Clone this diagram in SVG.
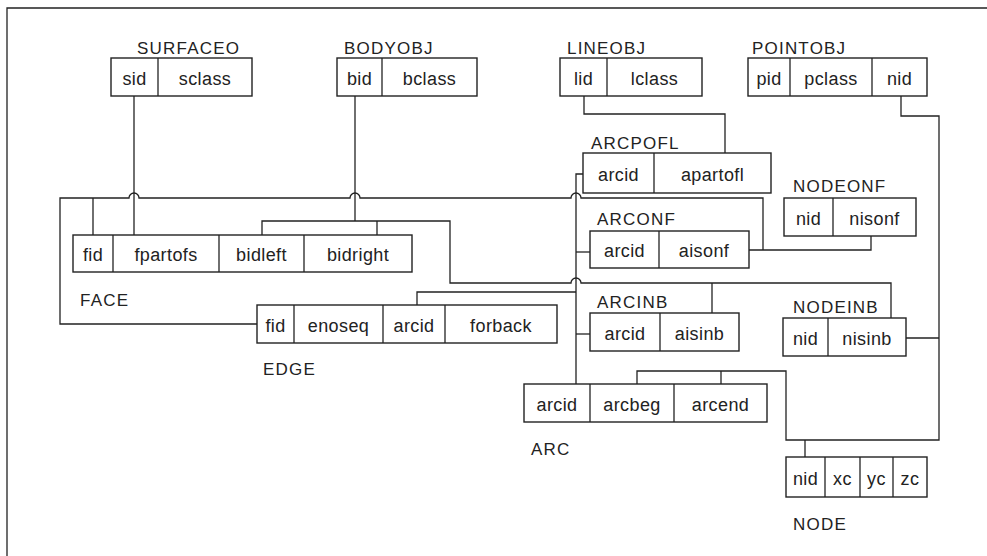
<svg xmlns="http://www.w3.org/2000/svg" width="987" height="556" viewBox="0 0 987 556">
<style>
.bx{fill:none;stroke:#222;stroke-width:1.4}
.dv{stroke:#222;stroke-width:1.3}
.f{font-family:"Liberation Sans",Arial,sans-serif;font-size:18px;fill:#222;text-anchor:middle;letter-spacing:0.4px}
.lb{font-family:"Liberation Sans",Arial,sans-serif;font-size:17px;fill:#222;letter-spacing:1.2px}
.cn{fill:none;stroke:#222;stroke-width:1.3}
</style>
<rect width="987" height="556" fill="#fff"/>
<path class="cn" d="M987,8 H7 V556"/>

<g id="SURFACEO">
<text class="lb" x="137" y="54">SURFACEO</text>
<rect class="bx" x="111" y="58" width="141" height="38"/>
<line class="dv" x1="158" y1="58" x2="158" y2="96"/>
<text class="f" x="134.5" y="85">sid</text>
<text class="f" x="205" y="85">sclass</text>
</g>

<g id="BODYOBJ">
<text class="lb" x="344" y="54">BODYOBJ</text>
<rect class="bx" x="337" y="58" width="140" height="38"/>
<line class="dv" x1="382" y1="58" x2="382" y2="96"/>
<text class="f" x="359.5" y="85">bid</text>
<text class="f" x="429.5" y="85">bclass</text>
</g>

<g id="LINEOBJ">
<text class="lb" x="567" y="54">LINEOBJ</text>
<rect class="bx" x="560" y="58" width="142" height="38"/>
<line class="dv" x1="607" y1="58" x2="607" y2="96"/>
<text class="f" x="583.5" y="85">lid</text>
<text class="f" x="654.5" y="85">lclass</text>
</g>

<g id="POINTOBJ">
<text class="lb" x="752" y="54">POINTOBJ</text>
<rect class="bx" x="748" y="58" width="179" height="38"/>
<line class="dv" x1="790" y1="58" x2="790" y2="96"/>
<line class="dv" x1="872" y1="58" x2="872" y2="96"/>
<text class="f" x="769" y="85">pid</text>
<text class="f" x="831" y="85">pclass</text>
<text class="f" x="899.5" y="85">nid</text>
</g>

<g id="ARCPOFL">
<text class="lb" x="591" y="149">ARCPOFL</text>
<rect class="bx" x="583" y="153" width="188" height="40"/>
<line class="dv" x1="654" y1="153" x2="654" y2="193"/>
<text class="f" x="618.5" y="181">arcid</text>
<text class="f" x="712.5" y="181">apartofl</text>
</g>

<g id="NODEONF">
<text class="lb" x="793" y="192">NODEONF</text>
<rect class="bx" x="784" y="198" width="132" height="38"/>
<line class="dv" x1="833" y1="198" x2="833" y2="236"/>
<text class="f" x="808.5" y="225">nid</text>
<text class="f" x="874.5" y="225">nisonf</text>
</g>

<g id="ARCONF">
<text class="lb" x="597" y="225">ARCONF</text>
<rect class="bx" x="590" y="231" width="159" height="37"/>
<line class="dv" x1="659" y1="231" x2="659" y2="268"/>
<text class="f" x="624.5" y="257">arcid</text>
<text class="f" x="704" y="257">aisonf</text>
</g>

<g id="FACE">
<rect class="bx" x="73" y="235" width="339" height="37"/>
<line class="dv" x1="113" y1="235" x2="113" y2="272"/>
<line class="dv" x1="219" y1="235" x2="219" y2="272"/>
<line class="dv" x1="304" y1="235" x2="304" y2="272"/>
<text class="f" x="93" y="261">fid</text>
<text class="f" x="166" y="261">fpartofs</text>
<text class="f" x="261.5" y="261">bidleft</text>
<text class="f" x="358" y="261">bidright</text>
<text class="lb" x="80" y="306">FACE</text>
</g>

<g id="EDGE">
<rect class="bx" x="257" y="305" width="300" height="38"/>
<line class="dv" x1="294" y1="305" x2="294" y2="343"/>
<line class="dv" x1="383" y1="305" x2="383" y2="343"/>
<line class="dv" x1="445" y1="305" x2="445" y2="343"/>
<text class="f" x="275.5" y="332">fid</text>
<text class="f" x="338.5" y="332">enoseq</text>
<text class="f" x="414" y="332">arcid</text>
<text class="f" x="501" y="332">forback</text>
<text class="lb" x="263" y="375">EDGE</text>
</g>

<g id="ARCINB">
<text class="lb" x="597" y="308">ARCINB</text>
<rect class="bx" x="590" y="313" width="149" height="38"/>
<line class="dv" x1="660" y1="313" x2="660" y2="351"/>
<text class="f" x="625" y="340">arcid</text>
<text class="f" x="699.5" y="340">aisinb</text>
</g>

<g id="NODEINB">
<text class="lb" x="793" y="313">NODEINB</text>
<rect class="bx" x="783" y="318" width="123" height="38"/>
<line class="dv" x1="828" y1="318" x2="828" y2="356"/>
<text class="f" x="805.5" y="345">nid</text>
<text class="f" x="867" y="345">nisinb</text>
</g>

<g id="ARC">
<rect class="bx" x="524" y="384" width="243" height="38"/>
<line class="dv" x1="590" y1="384" x2="590" y2="422"/>
<line class="dv" x1="674" y1="384" x2="674" y2="422"/>
<text class="f" x="557" y="411">arcid</text>
<text class="f" x="632" y="411">arcbeg</text>
<text class="f" x="720.5" y="411">arcend</text>
<text class="lb" x="531" y="455">ARC</text>
</g>

<g id="NODE">
<rect class="bx" x="786" y="457" width="141" height="40"/>
<line class="dv" x1="825" y1="457" x2="825" y2="497"/>
<line class="dv" x1="860" y1="457" x2="860" y2="497"/>
<line class="dv" x1="893" y1="457" x2="893" y2="497"/>
<text class="f" x="805.5" y="485">nid</text>
<text class="f" x="842.5" y="485">xc</text>
<text class="f" x="876.5" y="485">yc</text>
<text class="f" x="910" y="485">zc</text>
<text class="lb" x="793" y="530">NODE</text>
</g>

<g id="connectors">
<path class="cn" d="M134,96 V235"/>
<path class="cn" d="M355,96 V221"/>
<path class="cn" d="M257,324 H60 V198 H129 a5,5 0 0 1 10,0 H350 a5,5 0 0 1 10,0 H571 a5,5 0 0 1 10,0 H763 V250"/>
<path class="cn" d="M93,198 V235"/>
<path class="cn" d="M749,250 H871 V236"/>
<path class="cn" d="M262,235 V221 H450 V283 H571 a5,5 0 0 1 10,0 H891 V318"/>
<path class="cn" d="M377,221 V235"/>
<path class="cn" d="M712,283 V313"/>
<path class="cn" d="M417,305 V292 H576"/>
<path class="cn" d="M583,174 H576 V384"/>
<path class="cn" d="M576,252 H590"/>
<path class="cn" d="M576,334 H590"/>
<path class="cn" d="M584,96 V114 H725 V153"/>
<path class="cn" d="M901,96 V116 H939 V440 H786 V371 H637 V384"/>
<path class="cn" d="M721,371 V384"/>
<path class="cn" d="M906,338 H939"/>
<path class="cn" d="M805,440 V457"/>
</g>
</svg>
